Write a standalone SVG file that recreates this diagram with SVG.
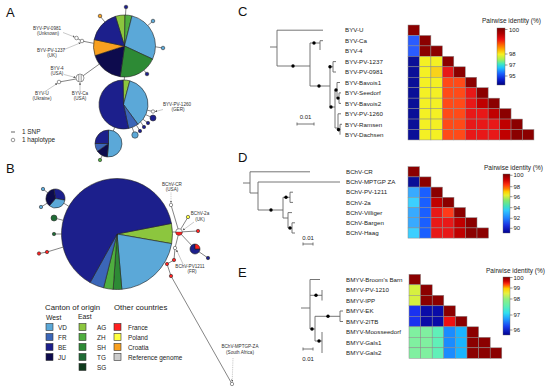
<svg xmlns="http://www.w3.org/2000/svg" width="550" height="390" viewBox="0 0 550 390">
<defs>
<style>
text{font-family:"Liberation Sans",Arial,sans-serif;fill:#222}
.pl{font-size:13px;fill:#111}
.t{font-size:4.6px;text-anchor:middle;fill:#333}
.lb{font-size:6.2px}
.lg{font-size:7.8px}
.lw{font-size:6.8px}
.li{font-size:6.4px}
.tk{font-size:6px}
.ti{font-size:6.5px}
.pie path{stroke:#222;stroke-width:0.6}
.net line,.net polyline{stroke:#333;stroke-width:0.6;fill:none}
.tree line{stroke:#666;stroke-width:0.9}
.ann{stroke:#777;stroke-width:0.4;fill:none;marker-end:url(#arr)}
.dash{stroke-dasharray:1 0.8}
.dot{fill:#000}
.hm rect{stroke:#8a8a8a;stroke-width:0.5}
.sw{stroke:#333;stroke-width:0.6}
.VD{fill:#5ba8d8}.FR{fill:#3b66b8}.BE{fill:#1c1f8c}.JU{fill:#0d0b4d}
.AG{fill:#8cc63e}.ZH{fill:#4fae3f}.SH{fill:#2d8a35}.TG{fill:#1f6b35}.SG{fill:#0f3b1d}
.Fr{fill:#ff2020}.Po{fill:#ffff40}.Cr{fill:#f8a020}.Rf{fill:#cccccc}
.wc{fill:#fff;stroke:#333;stroke-width:0.5}
.dr{fill:#8b0000}.r2{fill:#c00000}.r1{fill:#e81818}.or{fill:#ff4a18}.yl{fill:#f4f024}.gd{fill:#f8d21a}
.nv{fill:#0a0f98}.bl{fill:#2a5cff}.lbu{fill:#38aaff}.cy{fill:#3ccfff}.bd{fill:#1a5fff}.or2{fill:#ff3a1a}
.yg{fill:#d6f040}.bl2{fill:#1a32f0}.nv2{fill:#0a0ca8}.rd{fill:#ee1010}.mg{fill:#80f0a0}.aq{fill:#60f0b8}.sb{fill:#1a8cff}.sk{fill:#1ab4ff}
.cb{stroke:#666;stroke-width:0.4}
.tkl{stroke:#333;stroke-width:0.5}
</style>
<marker id="arr" viewBox="0 0 6 6" refX="5" refY="3" markerWidth="2.4" markerHeight="2.4" markerUnits="userSpaceOnUse" orient="auto"><path d="M0,0 L6,3 L0,6 z" fill="#555"/></marker>
<linearGradient id="gC" x1="0" y1="0" x2="0" y2="1">
<stop offset="0" stop-color="#7a0000"/><stop offset="0.1" stop-color="#b00000"/><stop offset="0.2" stop-color="#ee1010"/><stop offset="0.3" stop-color="#ff6a00"/><stop offset="0.38" stop-color="#ffb000"/><stop offset="0.46" stop-color="#f8f020"/><stop offset="0.55" stop-color="#a8f050"/><stop offset="0.63" stop-color="#40e8c0"/><stop offset="0.7" stop-color="#20c0ff"/><stop offset="0.8" stop-color="#1a60ff"/><stop offset="0.9" stop-color="#0a20d0"/><stop offset="1" stop-color="#000080"/>
</linearGradient>
<linearGradient id="gD" x1="0" y1="0" x2="0" y2="1">
<stop offset="0" stop-color="#7a0000"/><stop offset="0.1" stop-color="#cc0000"/><stop offset="0.18" stop-color="#ff3010"/><stop offset="0.25" stop-color="#ff8000"/><stop offset="0.3" stop-color="#ffd000"/><stop offset="0.36" stop-color="#e8f030"/><stop offset="0.45" stop-color="#80e870"/><stop offset="0.55" stop-color="#40e0c0"/><stop offset="0.62" stop-color="#30c8ff"/><stop offset="0.75" stop-color="#2080ff"/><stop offset="0.87" stop-color="#1a30e0"/><stop offset="1" stop-color="#000090"/>
</linearGradient>
<linearGradient id="gE" x1="0" y1="0" x2="0" y2="1">
<stop offset="0" stop-color="#7a0000"/><stop offset="0.07" stop-color="#cc0000"/><stop offset="0.12" stop-color="#ff3010"/><stop offset="0.16" stop-color="#ff8000"/><stop offset="0.2" stop-color="#ffd000"/><stop offset="0.28" stop-color="#e8f040"/><stop offset="0.38" stop-color="#90f080"/><stop offset="0.5" stop-color="#60f0b0"/><stop offset="0.62" stop-color="#30e0f0"/><stop offset="0.72" stop-color="#20a0ff"/><stop offset="0.85" stop-color="#1a40f0"/><stop offset="1" stop-color="#000090"/>
</linearGradient>
</defs>
<rect width="550" height="390" fill="#fff"/>

<!-- panel letters -->
<text class="pl" x="6" y="17">A</text>
<text class="pl" x="6" y="173">B</text>
<text class="pl" x="238" y="16">C</text>
<text class="pl" x="238" y="162">D</text>
<text class="pl" x="238" y="277">E</text>

<!-- network connectors -->
<g id="connectors" class="net">
<line x1="124.5" y1="77" x2="124.2" y2="80"/>
<line x1="114.7" y1="127.4" x2="113.3" y2="130.9"/>
<line x1="102.3" y1="155.5" x2="100.5" y2="159"/>
<line x1="104.9" y1="22" x2="100" y2="16"/>
<line x1="125.5" y1="15" x2="126" y2="7"/>
<line x1="147.8" y1="25.5" x2="153" y2="21"/>
<line x1="155.5" y1="46.8" x2="163" y2="48"/>
<line x1="143.9" y1="70.2" x2="147" y2="74"/>
<polyline points="93.6,43.3 82,41 76.5,38"/>
<line x1="99.3" y1="64.1" x2="80" y2="78"/>
<line x1="76" y1="79" x2="59" y2="82"/>
<line x1="147.3" y1="110.2" x2="153" y2="111.5"/>
<line x1="145.8" y1="114.7" x2="153" y2="118"/>
<line x1="143" y1="119.3" x2="148" y2="123"/>
<line x1="140" y1="121" x2="144" y2="127"/>
<line x1="136.5" y1="125.3" x2="140" y2="131"/>
<line x1="132.1" y1="127.4" x2="135" y2="135"/>
<line x1="63.7" y1="203.2" x2="68.9" y2="206.3"/>
<line x1="48" y1="193" x2="43" y2="189"/>
<line x1="47.5" y1="203" x2="41" y2="207"/>
<line x1="57" y1="218.7" x2="63.2" y2="220.3"/>
<line x1="54" y1="234" x2="61.5" y2="234"/>
<polyline points="63.1,247.1 47,252 39,253.5"/>
<line x1="172.5" y1="232" x2="179" y2="232"/>
<line x1="179" y1="232" x2="171" y2="205"/>
<line x1="179" y1="232" x2="188" y2="217"/>
<line x1="179" y1="232" x2="198" y2="231"/>
<line x1="179" y1="232" x2="195" y2="249"/>
<line x1="195" y1="249" x2="208" y2="258"/>
<line x1="179" y1="232" x2="175" y2="248"/>
<polyline points="175,248 174,260 167,264 171,276 232,384"/>
</g>

<!-- Panel A haplotype nodes -->
<g id="hapA1" class="pie">
<path class="AG" d="M124.5,46 L115.44,16.35 A31,31 0 0 1 125.04,15 Z"/>
<path class="ZH" d="M124.5,46 L125.04,15 A31,31 0 0 1 132,15.92 Z"/>
<path class="VD" d="M124.5,46 L132,15.92 A31,31 0 0 1 152.6,59.1 Z"/>
<path class="SH" d="M124.5,46 L152.6,59.1 A31,31 0 0 1 120.2,76.7 Z"/>
<path class="JU" d="M124.5,46 L120.2,76.7 A31,31 0 0 1 95.02,55.58 Z"/>
<path class="Cr" d="M124.5,46 L95.02,55.58 A31,31 0 0 1 94.18,39.56 Z"/>
<path class="BE" d="M124.5,46 L94.18,39.56 A31,31 0 0 1 115.44,16.35 Z"/>
</g>
<g id="hapA2" class="pie">
<path class="AG" d="M123.5,104.5 L123.07,80 A24.5,24.5 0 0 1 129.84,80.83 Z"/>
<path class="VD" d="M123.5,104.5 L129.84,80.83 A24.5,24.5 0 0 1 137.9,124.32 Z"/>
<path class="FR" d="M123.5,104.5 L137.9,124.32 A24.5,24.5 0 0 1 128.59,128.46 Z"/>
<path class="BE" d="M123.5,104.5 L128.59,128.46 A24.5,24.5 0 1 1 123.07,80 Z"/>
</g>
<g id="hapA3" class="pie">
<path class="VD" d="M108.5,143.5 L108.5,130 A13.5,13.5 0 1 1 107.32,156.95 Z"/>
<path class="JU" d="M108.5,143.5 L107.32,156.95 A13.5,13.5 0 0 1 97.44,151.24 Z"/>
<path class="FR" d="M108.5,143.5 L97.44,151.24 A13.5,13.5 0 0 1 95,143.5 Z"/>
<path class="BE" d="M108.5,143.5 L95,143.5 A13.5,13.5 0 0 1 108.5,130 Z"/>
</g>
<g id="hapA-satellites" class="sw">
<circle cx="100" cy="16" r="1.8" class="Cr"/>
<circle cx="126" cy="7" r="1.8" class="BE"/>
<circle cx="153" cy="21" r="1.8" class="VD"/>
<circle cx="163" cy="48" r="1.8" class="VD"/>
<circle cx="147" cy="74" r="1.8" class="BE"/>
<circle cx="100" cy="160" r="1.7" class="ZH"/>
<circle cx="153" cy="118" r="3" class="BE"/>
<circle cx="148" cy="123" r="1.7" class="BE"/>
<circle cx="144" cy="127" r="1.7" class="BE"/>
<circle cx="140" cy="131" r="1.7" class="BE"/>
<circle cx="135" cy="135" r="3.2" class="VD"/>
</g>
<g id="hapA-ref">
<circle cx="82" cy="41" r="1.8" class="wc"/>
<circle cx="76.5" cy="38" r="1.8" class="wc"/>
<circle cx="80" cy="78" r="4" class="wc"/>
<line x1="78.8" y1="74.6" x2="78.8" y2="81.4" stroke="#333" stroke-width="0.5"/>
<line x1="81.2" y1="74.6" x2="81.2" y2="81.4" stroke="#333" stroke-width="0.5"/>
<circle cx="59" cy="82" r="1.8" class="wc"/>
<circle cx="153" cy="111.5" r="1.7" class="wc"/>
</g>
<g id="labelsA">
<text class="t" x="47" y="30">BYV-PV-0981</text><text class="t" x="48" y="35">(Unknown)</text>
<line class="ann" x1="63" y1="32.5" x2="74.5" y2="37"/>
<text class="t" x="51" y="52">BYV-PV-1237</text><text class="t" x="52" y="57">(UK)</text>
<line class="ann" x1="63" y1="50" x2="80.5" y2="42.8"/>
<text class="t" x="57" y="70">BYV-4</text><text class="t" x="57" y="75">(USA)</text>
<line class="ann" x1="64" y1="74.5" x2="75.5" y2="77.5"/>
<text class="t" x="42" y="95">BYV-U</text><text class="t" x="42" y="100">(Ukraine)</text>
<line class="ann" x1="45" y1="91.5" x2="57.2" y2="83.5"/>
<text class="t" x="80" y="95">BYV-Ca</text><text class="t" x="80" y="100">(USA)</text>
<line class="ann" x1="80" y1="91.5" x2="80" y2="82.8"/>
<text class="t" x="177" y="106">BYV-PV-1260</text><text class="t" x="178" y="111">(GER)</text>
<line class="ann" x1="163" y1="109.5" x2="155.2" y2="111.6"/>
</g>
<g id="legendA">
<line x1="11" y1="132" x2="15" y2="132" stroke="#222" stroke-width="0.7"/>
<text class="li" x="22" y="134">1 SNP</text>
<circle cx="13" cy="140" r="1.8" class="wc"/>
<text class="li" x="22" y="142">1 haplotype</text>
</g>

<!-- Panel B nodes -->
<g id="hapB1" class="pie">
<path class="AG" d="M117,234 L171.48,223.41 A55.5,55.5 0 0 1 171.66,243.64 Z"/>
<path class="VD" d="M117,234 L171.66,243.64 A55.5,55.5 0 0 1 121.84,289.29 Z"/>
<path class="SH" d="M117,234 L121.84,289.29 A55.5,55.5 0 0 1 113.13,289.37 Z"/>
<path class="ZH" d="M117,234 L113.13,289.37 A55.5,55.5 0 0 1 103.57,287.85 Z"/>
<path class="FR" d="M117,234 L103.57,287.85 A55.5,55.5 0 0 1 90.09,282.54 Z"/>
<path class="BE" d="M117,234 L90.09,282.54 A55.5,55.5 0 1 1 171.48,223.41 Z"/>
</g>
<g id="hapB2" class="pie">
<path class="BE" d="M55.5,198.5 L53.85,189.14 A9.5,9.5 0 0 1 64.86,200.15 Z"/>
<path class="VD" d="M55.5,198.5 L64.86,200.15 A9.5,9.5 0 0 1 49.39,205.78 Z"/>
<path class="JU" d="M55.5,198.5 L49.39,205.78 A9.5,9.5 0 0 1 53.85,189.14 Z"/>
</g>
<g id="hapB3" class="pie">
<path class="BE" d="M195,249 L200,249 A5,5 0 1 1 195,244 Z"/>
<path class="Fr" d="M195,249 L195,244 A5,5 0 0 1 200,249 Z"/>
</g>
<g id="hapB-satellites" class="sw">
<circle cx="43" cy="189" r="1.7" class="VD"/>
<circle cx="41" cy="207" r="1.7" class="VD"/>
<circle cx="54" cy="218" r="3" class="TG"/>
<circle cx="54" cy="234" r="1.7" class="TG"/>
<circle cx="47" cy="252" r="1.7" class="Fr"/>
<circle cx="39" cy="253.5" r="1.7" class="Fr"/>
<circle cx="188" cy="217" r="1.7" class="Po"/>
<circle cx="198" cy="231" r="1.7" class="Fr"/>
<circle cx="208" cy="258" r="1.7" class="BE"/>
<circle cx="174" cy="260" r="1.7" class="Fr"/>
<circle cx="167" cy="264" r="1.7" class="Fr"/>
<circle cx="171" cy="276" r="1.7" class="Fr"/>
</g>
<g id="hapB-ref">
<circle cx="171" cy="205" r="1.7" class="wc"/>
<circle cx="179" cy="232" r="3.3" class="wc"/>
<path d="M175.7,232 A3.3,3.3 0 0 0 182.3,232 Z" class="Fr" stroke="#333" stroke-width="0.4"/>
<circle cx="175" cy="248" r="1.7" class="wc"/>
<circle cx="232" cy="384" r="1.7" class="wc"/>
</g>
<g id="labelsB">
<text class="t" x="172" y="186">BChV-CR</text><text class="t" x="172" y="191">(USA)</text>
<line class="ann dash" x1="171" y1="192.5" x2="171" y2="202.5"/>
<text class="t" x="200" y="215">BChV-2a</text><text class="t" x="200" y="221">(UK)</text>
<line class="ann" x1="194" y1="222" x2="183" y2="230"/>
<text class="t" x="190" y="268">BChV-PV1211</text><text class="t" x="192" y="273">(FR)</text>
<line class="ann" x1="183" y1="264" x2="176.5" y2="250"/>
<text class="t" x="240" y="348">BChV-MPTGP-ZA</text><text class="t" x="240" y="354">(South Africa)</text>
<line class="ann dash" x1="233" y1="358" x2="232.2" y2="381.5"/>
</g>
<g id="legendB">
<text class="lg" x="45" y="310">Canton of origin</text>
<text class="lg" x="114" y="310">Other countries</text>
<text class="lw" x="46" y="319.5">West</text>
<text class="lw" x="78" y="319">East</text>
<rect class="sw VD" x="46" y="323.5" width="7" height="7"/><text class="li" x="58" y="329.5">VD</text>
<rect class="sw FR" x="46" y="333.5" width="7" height="7"/><text class="li" x="58" y="339.5">FR</text>
<rect class="sw BE" x="46" y="343.5" width="7" height="7"/><text class="li" x="58" y="349.5">BE</text>
<rect class="sw JU" x="46" y="353.5" width="7" height="7"/><text class="li" x="58" y="359.5">JU</text>
<rect class="sw AG" x="79" y="323.5" width="7" height="7"/><text class="li" x="97" y="329.5">AG</text>
<rect class="sw ZH" x="79" y="333.5" width="7" height="7"/><text class="li" x="97" y="339.5">ZH</text>
<rect class="sw SH" x="79" y="343.5" width="7" height="7"/><text class="li" x="97" y="349.5">SH</text>
<rect class="sw TG" x="79" y="353.5" width="7" height="7"/><text class="li" x="97" y="359.5">TG</text>
<rect class="sw SG" x="79" y="363.5" width="7" height="7"/><text class="li" x="97" y="369.5">SG</text>
<rect class="sw Fr" x="114" y="323.5" width="7" height="7"/><text class="li" x="128" y="329.5">France</text>
<rect class="sw Po" x="114" y="333.5" width="7" height="7"/><text class="li" x="128" y="339.5">Poland</text>
<rect class="sw Cr" x="114" y="343.5" width="7" height="7"/><text class="li" x="128" y="349.5">Croatia</text>
<rect class="sw Rf" x="114" y="353.5" width="7" height="7"/><text class="li" x="128" y="359.5">Reference genome</text>
</g>

<!-- Panel C tree -->
<g id="treeC" class="tree">
<line x1="270" y1="47" x2="277" y2="47"/>
<line x1="277" y1="30.2" x2="277" y2="66"/>
<line x1="277" y1="30.2" x2="323" y2="30.2"/>
<line x1="277" y1="66" x2="310" y2="66"/>
<line x1="310" y1="43" x2="310" y2="86"/>
<line x1="310" y1="43" x2="320" y2="43"/>
<line x1="320" y1="40.7" x2="320" y2="50"/>
<line x1="320" y1="40.7" x2="323" y2="40.7"/>
<line x1="310" y1="86" x2="330" y2="86"/>
<line x1="330" y1="66.8" x2="330" y2="107"/>
<line x1="330" y1="66.8" x2="333" y2="66.8"/>
<line x1="333" y1="61.6" x2="333" y2="72"/>
<line x1="333" y1="61.6" x2="336" y2="61.6"/>
<line x1="333" y1="72" x2="336" y2="72"/>
<line x1="330" y1="107" x2="335" y2="107"/>
<line x1="335" y1="90" x2="335" y2="128"/>
<line x1="335" y1="90" x2="337" y2="90"/>
<line x1="337" y1="82.5" x2="337" y2="98.1"/>
<line x1="337" y1="82.5" x2="340" y2="82.5"/>
<line x1="337" y1="98.1" x2="339" y2="98.1"/>
<line x1="339" y1="92.9" x2="339" y2="103.4"/>
<line x1="339" y1="92.9" x2="341" y2="92.9"/>
<line x1="339" y1="103.4" x2="341" y2="103.4"/>
<line x1="335" y1="128" x2="338" y2="128"/>
<line x1="338" y1="113.8" x2="338" y2="131"/>
<line x1="338" y1="113.8" x2="341" y2="113.8"/>
<line x1="338" y1="131" x2="340" y2="131"/>
<line x1="340" y1="124.3" x2="340" y2="134.7"/>
<line x1="340" y1="124.3" x2="342" y2="124.3"/>
<line x1="297" y1="124" x2="314" y2="124"/>
<line x1="297" y1="122.5" x2="297" y2="125.5"/>
<line x1="314" y1="122.5" x2="314" y2="125.5"/>
</g>
<g id="nodesC">
<circle class="dot" cx="293" cy="66" r="1.7"/>
<circle class="dot" cx="314" cy="43" r="1.7"/>
<circle class="dot" cx="319" cy="86" r="1.7"/>
<circle class="dot" cx="330" cy="66.8" r="1.7"/>
<circle class="dot" cx="331" cy="107" r="1.7"/>
<circle class="dot" cx="336" cy="90" r="1.7"/>
<circle class="dot" cx="338" cy="98.1" r="1.7"/>
<circle class="dot" cx="338.5" cy="129.5" r="1.7"/>
</g>
<g id="labelsC" class="lb">
<text x="345" y="32.4">BYV-U</text>
<text x="345" y="42.9">BYV-Ca</text>
<text x="345" y="53.3">BYV-4</text>
<text x="345" y="63.8">BYV-PV-1237</text>
<text x="345" y="74.2">BYV-PV-0981</text>
<text x="345" y="84.7">BYV-Bavois1</text>
<text x="345" y="95.1">BYV-Seedorf</text>
<text x="345" y="105.6">BYV-Bavois2</text>
<text x="345" y="116">BYV-PV-1260</text>
<text x="345" y="126.5">BYV-Ramsen</text>
<text x="345" y="136.9">BYV-Dachsen</text>
<text class="tk" x="305.5" y="119" text-anchor="middle">0.01</text>
</g>
<g id="heatC" class="hm">
<rect class="dr" x="408" y="25" width="11.45" height="10.45"/>
<rect class="bl" x="408" y="35.45" width="11.45" height="10.45"/><rect class="dr" x="419.45" y="35.45" width="11.45" height="10.45"/>
<rect class="bl" x="408" y="45.9" width="11.45" height="10.45"/><rect class="dr" x="419.45" y="45.9" width="11.45" height="10.45"/><rect class="dr" x="430.9" y="45.9" width="11.45" height="10.45"/>
<rect class="nv" x="408" y="56.35" width="11.45" height="10.45"/><rect class="yl" x="419.45" y="56.35" width="11.45" height="10.45"/><rect class="yl" x="430.9" y="56.35" width="11.45" height="10.45"/><rect class="dr" x="442.35" y="56.35" width="11.45" height="10.45"/>
<rect class="nv" x="408" y="66.8" width="11.45" height="10.45"/><rect class="yl" x="419.45" y="66.8" width="11.45" height="10.45"/><rect class="gd" x="430.9" y="66.8" width="11.45" height="10.45"/><rect class="r1" x="442.35" y="66.8" width="11.45" height="10.45"/><rect class="dr" x="453.8" y="66.8" width="11.45" height="10.45"/>
<rect class="nv" x="408" y="77.25" width="11.45" height="10.45"/><rect class="yl" x="419.45" y="77.25" width="11.45" height="10.45"/><rect class="yl" x="430.9" y="77.25" width="11.45" height="10.45"/><rect class="or" x="442.35" y="77.25" width="11.45" height="10.45"/><rect class="or" x="453.8" y="77.25" width="11.45" height="10.45"/><rect class="dr" x="465.25" y="77.25" width="11.45" height="10.45"/>
<rect class="nv" x="408" y="87.7" width="11.45" height="10.45"/><rect class="yl" x="419.45" y="87.7" width="11.45" height="10.45"/><rect class="yl" x="430.9" y="87.7" width="11.45" height="10.45"/><rect class="or" x="442.35" y="87.7" width="11.45" height="10.45"/><rect class="or" x="453.8" y="87.7" width="11.45" height="10.45"/><rect class="r1" x="465.25" y="87.7" width="11.45" height="10.45"/><rect class="dr" x="476.7" y="87.7" width="11.45" height="10.45"/>
<rect class="nv" x="408" y="98.15" width="11.45" height="10.45"/><rect class="yl" x="419.45" y="98.15" width="11.45" height="10.45"/><rect class="yl" x="430.9" y="98.15" width="11.45" height="10.45"/><rect class="or" x="442.35" y="98.15" width="11.45" height="10.45"/><rect class="or" x="453.8" y="98.15" width="11.45" height="10.45"/><rect class="r1" x="465.25" y="98.15" width="11.45" height="10.45"/><rect class="r2" x="476.7" y="98.15" width="11.45" height="10.45"/><rect class="dr" x="488.15" y="98.15" width="11.45" height="10.45"/>
<rect class="nv" x="408" y="108.6" width="11.45" height="10.45"/><rect class="yl" x="419.45" y="108.6" width="11.45" height="10.45"/><rect class="yl" x="430.9" y="108.6" width="11.45" height="10.45"/><rect class="or" x="442.35" y="108.6" width="11.45" height="10.45"/><rect class="or" x="453.8" y="108.6" width="11.45" height="10.45"/><rect class="r1" x="465.25" y="108.6" width="11.45" height="10.45"/><rect class="r1" x="476.7" y="108.6" width="11.45" height="10.45"/><rect class="r2" x="488.15" y="108.6" width="11.45" height="10.45"/><rect class="dr" x="499.6" y="108.6" width="11.45" height="10.45"/>
<rect class="nv" x="408" y="119.05" width="11.45" height="10.45"/><rect class="yl" x="419.45" y="119.05" width="11.45" height="10.45"/><rect class="yl" x="430.9" y="119.05" width="11.45" height="10.45"/><rect class="or" x="442.35" y="119.05" width="11.45" height="10.45"/><rect class="or" x="453.8" y="119.05" width="11.45" height="10.45"/><rect class="r1" x="465.25" y="119.05" width="11.45" height="10.45"/><rect class="r1" x="476.7" y="119.05" width="11.45" height="10.45"/><rect class="r1" x="488.15" y="119.05" width="11.45" height="10.45"/><rect class="r2" x="499.6" y="119.05" width="11.45" height="10.45"/><rect class="dr" x="511.05" y="119.05" width="11.45" height="10.45"/>
<rect class="nv" x="408" y="129.5" width="11.45" height="10.45"/><rect class="yl" x="419.45" y="129.5" width="11.45" height="10.45"/><rect class="yl" x="430.9" y="129.5" width="11.45" height="10.45"/><rect class="or" x="442.35" y="129.5" width="11.45" height="10.45"/><rect class="or" x="453.8" y="129.5" width="11.45" height="10.45"/><rect class="r1" x="465.25" y="129.5" width="11.45" height="10.45"/><rect class="r1" x="476.7" y="129.5" width="11.45" height="10.45"/><rect class="r1" x="488.15" y="129.5" width="11.45" height="10.45"/><rect class="r2" x="499.6" y="129.5" width="11.45" height="10.45"/><rect class="dr" x="511.05" y="129.5" width="11.45" height="10.45"/><rect class="dr" x="522.5" y="129.5" width="11.45" height="10.45"/>
</g>
<g id="scaleC">
<text class="ti" x="482" y="23">Pairwise identity (%)</text>
<rect class="cb" x="497" y="28" width="8" height="57" fill="url(#gC)"/>
<line class="tkl" x1="505" y1="29.5" x2="507.5" y2="29.5"/><text class="tk" x="509" y="31.6">100</text>
<line class="tkl" x1="505" y1="54" x2="507.5" y2="54"/><text class="tk" x="509" y="56.1">98</text>
<line class="tkl" x1="505" y1="65" x2="507.5" y2="65"/><text class="tk" x="509" y="67.1">97</text>
<line class="tkl" x1="505" y1="76" x2="507.5" y2="76"/><text class="tk" x="509" y="78.1">95</text>
</g>

<!-- Panel D tree -->
<g id="treeD" class="tree">
<line x1="243" y1="183" x2="250" y2="183"/>
<line x1="250" y1="171.8" x2="250" y2="193"/>
<line x1="250" y1="171.8" x2="310" y2="171.8"/>
<line x1="250" y1="193" x2="258" y2="193"/>
<line x1="258" y1="182" x2="258" y2="210"/>
<line x1="258" y1="182" x2="340" y2="182"/>
<line x1="258" y1="210" x2="283" y2="210"/>
<line x1="283" y1="197.3" x2="283" y2="218"/>
<line x1="283" y1="197.3" x2="290" y2="197.3"/>
<line x1="290" y1="192.2" x2="290" y2="202.4"/>
<line x1="290" y1="192.2" x2="293" y2="192.2"/>
<line x1="290" y1="202.4" x2="293" y2="202.4"/>
<line x1="283" y1="218" x2="288" y2="218"/>
<line x1="288" y1="212.6" x2="288" y2="228"/>
<line x1="288" y1="212.6" x2="292" y2="212.6"/>
<line x1="288" y1="228" x2="292" y2="228"/>
<line x1="292" y1="222.8" x2="292" y2="233"/>
<line x1="292" y1="222.8" x2="295" y2="222.8"/>
<line x1="292" y1="233" x2="295" y2="233"/>
<line x1="303" y1="244" x2="313" y2="244"/>
<line x1="303" y1="242.5" x2="303" y2="245.5"/>
<line x1="313" y1="242.5" x2="313" y2="245.5"/>
</g>
<g id="nodesD">
<circle class="dot" cx="271" cy="210" r="1.7"/>
<circle class="dot" cx="286" cy="197.3" r="1.7"/>
<circle class="dot" cx="290" cy="228" r="1.7"/>
</g>
<g id="labelsD" class="lb">
<text x="346" y="174">BChV-CR</text>
<text x="346" y="184.2">BChV-MPTGP ZA</text>
<text x="346" y="194.4">BChV-PV-1211</text>
<text x="346" y="204.6">BChV-2a</text>
<text x="346" y="214.8">BChV-Villiger</text>
<text x="346" y="225">BChV-Bargen</text>
<text x="346" y="235.2">BChV-Haag</text>
<text class="tk" x="308" y="240" text-anchor="middle">0.01</text>
</g>
<g id="heatD" class="hm">
<rect class="dr" x="408" y="166.7" width="11.5" height="10.2"/>
<rect class="nv" x="408" y="176.9" width="11.5" height="10.2"/><rect class="dr" x="419.5" y="176.9" width="11.5" height="10.2"/>
<rect class="lbu" x="408" y="187.1" width="11.5" height="10.2"/><rect class="bd" x="419.5" y="187.1" width="11.5" height="10.2"/><rect class="dr" x="431" y="187.1" width="11.5" height="10.2"/>
<rect class="cy" x="408" y="197.3" width="11.5" height="10.2"/><rect class="bd" x="419.5" y="197.3" width="11.5" height="10.2"/><rect class="r2" x="431" y="197.3" width="11.5" height="10.2"/><rect class="dr" x="442.5" y="197.3" width="11.5" height="10.2"/>
<rect class="lbu" x="408" y="207.5" width="11.5" height="10.2"/><rect class="bd" x="419.5" y="207.5" width="11.5" height="10.2"/><rect class="r1" x="431" y="207.5" width="11.5" height="10.2"/><rect class="or2" x="442.5" y="207.5" width="11.5" height="10.2"/><rect class="dr" x="454" y="207.5" width="11.5" height="10.2"/>
<rect class="lbu" x="408" y="217.7" width="11.5" height="10.2"/><rect class="bd" x="419.5" y="217.7" width="11.5" height="10.2"/><rect class="r1" x="431" y="217.7" width="11.5" height="10.2"/><rect class="r1" x="442.5" y="217.7" width="11.5" height="10.2"/><rect class="r2" x="454" y="217.7" width="11.5" height="10.2"/><rect class="dr" x="465.5" y="217.7" width="11.5" height="10.2"/>
<rect class="cy" x="408" y="227.9" width="11.5" height="10.2"/><rect class="bd" x="419.5" y="227.9" width="11.5" height="10.2"/><rect class="r1" x="431" y="227.9" width="11.5" height="10.2"/><rect class="r1" x="442.5" y="227.9" width="11.5" height="10.2"/><rect class="r2" x="454" y="227.9" width="11.5" height="10.2"/><rect class="dr" x="465.5" y="227.9" width="11.5" height="10.2"/><rect class="dr" x="477" y="227.9" width="11.5" height="10.2"/>
</g>
<g id="scaleD">
<text class="ti" x="484" y="170">Pairwise identity (%)</text>
<rect class="cb" x="503" y="174" width="7" height="59" fill="url(#gD)"/>
<line class="tkl" x1="510" y1="175.3" x2="512.5" y2="175.3"/><text class="tk" x="513.5" y="177.4">100</text>
<line class="tkl" x1="510" y1="186.7" x2="512.5" y2="186.7"/><text class="tk" x="513.5" y="188.8">98</text>
<line class="tkl" x1="510" y1="196.7" x2="512.5" y2="196.7"/><text class="tk" x="513.5" y="198.8">96</text>
<line class="tkl" x1="510" y1="207.7" x2="512.5" y2="207.7"/><text class="tk" x="513.5" y="209.8">94</text>
<line class="tkl" x1="510" y1="218.3" x2="512.5" y2="218.3"/><text class="tk" x="513.5" y="220.4">92</text>
<line class="tkl" x1="510" y1="228.3" x2="512.5" y2="228.3"/><text class="tk" x="513.5" y="230.4">90</text>
</g>

<!-- Panel E tree -->
<g id="treeE" class="tree">
<line x1="301" y1="308" x2="310" y2="308"/>
<line x1="310" y1="279.5" x2="310" y2="329"/>
<line x1="310" y1="279.5" x2="320" y2="279.5"/>
<line x1="310" y1="295.3" x2="322" y2="295.3"/>
<line x1="322" y1="290" x2="322" y2="300.5"/>
<line x1="310" y1="329" x2="315" y2="329"/>
<line x1="315" y1="316.3" x2="315" y2="341"/>
<line x1="315" y1="316.3" x2="340" y2="316.3"/>
<line x1="340" y1="311" x2="340" y2="321.5"/>
<line x1="340" y1="311" x2="343" y2="311"/>
<line x1="340" y1="321.5" x2="343" y2="321.5"/>
<line x1="315" y1="341" x2="322" y2="341"/>
<line x1="322" y1="332" x2="322" y2="353"/>
<line x1="303" y1="349" x2="313" y2="349"/>
<line x1="303" y1="347.5" x2="303" y2="350.5"/>
<line x1="313" y1="347.5" x2="313" y2="350.5"/>
</g>
<g id="nodesE">
<circle class="dot" cx="316" cy="295.3" r="1.7"/>
<circle class="dot" cx="312" cy="329" r="1.7"/>
<circle class="dot" cx="328" cy="316.3" r="1.7"/>
<circle class="dot" cx="319" cy="341" r="1.7"/>
</g>
<g id="labelsE" class="lb">
<text x="346" y="281.7">BMYV-Broom's Barn</text>
<text x="346" y="292.2">BMYV-PV-1210</text>
<text x="346" y="302.7">BMYV-IPP</text>
<text x="346" y="313.2">BMYV-EK</text>
<text x="346" y="323.7">BMYV-2ITB</text>
<text x="346" y="334.2">BMYV-Moosseedorf</text>
<text x="346" y="344.7">BMYV-Gals1</text>
<text x="346" y="355.2">BMYV-Gals2</text>
<text class="tk" x="308" y="361" text-anchor="middle">0.01</text>
</g>
<g id="heatE" class="hm">
<rect class="dr" x="409" y="274.3" width="11.6" height="10.5"/>
<rect class="yg" x="409" y="284.8" width="11.6" height="10.5"/><rect class="dr" x="420.6" y="284.8" width="11.6" height="10.5"/>
<rect class="yg" x="409" y="295.3" width="11.6" height="10.5"/><rect class="dr" x="420.6" y="295.3" width="11.6" height="10.5"/><rect class="dr" x="432.2" y="295.3" width="11.6" height="10.5"/>
<rect class="bl2" x="409" y="305.8" width="11.6" height="10.5"/><rect class="nv2" x="420.6" y="305.8" width="11.6" height="10.5"/><rect class="nv2" x="432.2" y="305.8" width="11.6" height="10.5"/><rect class="dr" x="443.8" y="305.8" width="11.6" height="10.5"/>
<rect class="bl2" x="409" y="316.3" width="11.6" height="10.5"/><rect class="nv2" x="420.6" y="316.3" width="11.6" height="10.5"/><rect class="nv2" x="432.2" y="316.3" width="11.6" height="10.5"/><rect class="rd" x="443.8" y="316.3" width="11.6" height="10.5"/><rect class="dr" x="455.4" y="316.3" width="11.6" height="10.5"/>
<rect class="mg" x="409" y="326.8" width="11.6" height="10.5"/><rect class="mg" x="420.6" y="326.8" width="11.6" height="10.5"/><rect class="aq" x="432.2" y="326.8" width="11.6" height="10.5"/><rect class="sb" x="443.8" y="326.8" width="11.6" height="10.5"/><rect class="sk" x="455.4" y="326.8" width="11.6" height="10.5"/><rect class="dr" x="467" y="326.8" width="11.6" height="10.5"/>
<rect class="mg" x="409" y="337.3" width="11.6" height="10.5"/><rect class="mg" x="420.6" y="337.3" width="11.6" height="10.5"/><rect class="aq" x="432.2" y="337.3" width="11.6" height="10.5"/><rect class="sb" x="443.8" y="337.3" width="11.6" height="10.5"/><rect class="sk" x="455.4" y="337.3" width="11.6" height="10.5"/><rect class="dr" x="467" y="337.3" width="11.6" height="10.5"/><rect class="dr" x="478.6" y="337.3" width="11.6" height="10.5"/>
<rect class="mg" x="409" y="347.8" width="11.6" height="10.5"/><rect class="mg" x="420.6" y="347.8" width="11.6" height="10.5"/><rect class="aq" x="432.2" y="347.8" width="11.6" height="10.5"/><rect class="sb" x="443.8" y="347.8" width="11.6" height="10.5"/><rect class="sk" x="455.4" y="347.8" width="11.6" height="10.5"/><rect class="dr" x="467" y="347.8" width="11.6" height="10.5"/><rect class="dr" x="478.6" y="347.8" width="11.6" height="10.5"/><rect class="dr" x="490.2" y="347.8" width="11.6" height="10.5"/>
</g>
<g id="scaleE">
<text class="ti" x="486" y="273">Pairwise identity (%)</text>
<rect class="cb" x="503" y="277" width="7" height="58" fill="url(#gE)"/>
<line class="tkl" x1="510" y1="277.5" x2="512.5" y2="277.5"/><text class="tk" x="513.5" y="279.6">100</text>
<line class="tkl" x1="510" y1="288" x2="512.5" y2="288"/><text class="tk" x="513.5" y="290.1">99</text>
<line class="tkl" x1="510" y1="299" x2="512.5" y2="299"/><text class="tk" x="513.5" y="301.1">98</text>
<line class="tkl" x1="510" y1="315" x2="512.5" y2="315"/><text class="tk" x="513.5" y="317.1">97</text>
<line class="tkl" x1="510" y1="330" x2="512.5" y2="330"/><text class="tk" x="513.5" y="332.1">96</text>
</g>
</svg>
